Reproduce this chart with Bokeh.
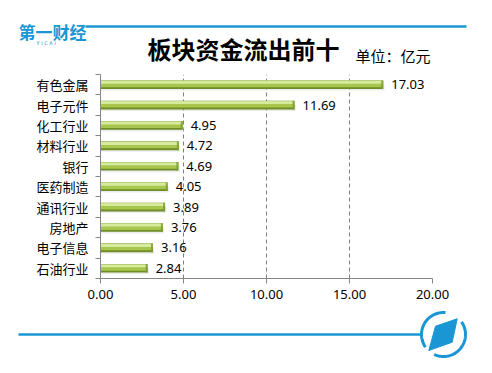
import numpy as np
from bokeh.plotting import figure
from bokeh.models import Range1d, FixedTicker, NumeralTickFormatter
from bokeh.embed import file_html
from bokeh.resources import INLINE
from bokeh.core.properties import value

# ---------------- data ----------------
categories = ["有色金属", "电子元件", "化工行业", "材料行业", "银行",
              "医药制造", "通讯行业", "房地产", "电子信息", "石油行业"]
values = [17.03, 11.69, 4.95, 4.72, 4.69, 4.05, 3.89, 3.76, 3.16, 2.84]
x_ticks = [0, 5, 10, 15, 20]
title_text = "板块资金流出前十"
unit_text = "单位：亿元"

CJK = "Noto Sans CJK SC"
BLUE = "#1a96d4"
GRAY = "#868686"

n = len(categories)
ypos = np.array([n - 0.5 - i for i in range(n)])
vals = np.array(values)
labels = [f"{v:.2f}" for v in values]

# frame occupies page pixels x 100..432, y 74..278
W, H = 484, 365
BL, BR, BT, BB = 100, 52, 74, 87

p = figure(width=W, height=H, x_range=Range1d(x_ticks[0], x_ticks[-1]),
           y_range=Range1d(0, n), toolbar_location=None, output_backend="svg",
           min_border_left=BL, min_border_right=BR, min_border_top=BT, min_border_bottom=BB)
# pixel ranges for the decorations (header / footer)
p.extra_x_ranges = {"px": Range1d(BL, W - BR)}
p.extra_y_ranges = {"px": Range1d(H - BB, BT)}

p.outline_line_color = None
p.ygrid.visible = False
p.xgrid.ticker = FixedTicker(ticks=x_ticks[1:])
p.xgrid.grid_line_color = "#7f7f7f"
p.xgrid.grid_line_dash = "4 3"
p.xgrid.grid_line_width = 1

p.xaxis.ticker = FixedTicker(ticks=x_ticks)
p.xaxis.formatter = NumeralTickFormatter(format="0.00")
p.xaxis.axis_line_color = GRAY
p.xaxis.major_tick_line_color = GRAY
p.xaxis.major_tick_out = 5
p.xaxis.major_tick_in = 0
p.xaxis.minor_tick_line_color = None
p.xaxis.major_label_standoff = 6
p.xaxis.major_label_text_font = "Noto Sans"
p.xaxis.major_label_text_font_size = "13px"
p.xaxis.major_label_text_color = "#000000"

p.yaxis.ticker = FixedTicker(ticks=list(ypos), minor_ticks=list(range(n + 1)))
p.yaxis.major_label_overrides = {float(y): c for y, c in zip(ypos, categories)}
p.yaxis.axis_line_color = GRAY
p.yaxis.major_tick_line_color = None
p.yaxis.major_tick_out = 0
p.yaxis.major_tick_in = 0
p.yaxis.minor_tick_line_color = GRAY
p.yaxis.minor_tick_out = 5
p.yaxis.minor_tick_in = 0
p.yaxis.major_label_standoff = 7
p.yaxis.major_label_text_font = CJK
p.yaxis.major_label_text_font_size = "13px"
p.yaxis.major_label_text_color = "#000000"

# bars (layered to imitate the cylinder look)
p.hbar(y=ypos - 0.14, left=0, right=vals + 0.08, height=0.3,
       fill_color="#c8c8c8", fill_alpha=0.35, line_color=None)
p.hbar(y=ypos, left=0, right=vals, height=0.42, fill_color="#6f8d26", line_color=None)
p.hbar(y=ypos + 0.04, left=0, right=vals, height=0.32, fill_color="#a8c64e", line_color=None)
p.hbar(y=ypos + 0.12, left=0, right=vals, height=0.14, fill_color="#d6eb9e", line_color=None)
p.hbar(y=ypos, left=vals - 0.12, right=vals, height=0.42, fill_color="#7e9c34",
       fill_alpha=0.85, line_color=None)

p.text(x=vals, y=ypos, text=labels, x_offset=8, text_baseline="middle", text_align="left",
       text_font=value("Noto Sans"), text_font_size="13px", text_color="#000000")

# ---------------- header (pixel coordinates) ----------------
kw = dict(x_range_name="px", y_range_name="px", level="overlay")
p.segment(x0=[85], y0=[26], x1=[466], y1=[26], line_color=BLUE, line_width=2.5, **kw)
p.text(x=[18], y=[31], text=["第一财经"], text_font=value(CJK), text_font_style="bold",
       text_font_size="17px", text_color=BLUE, text_baseline="middle", text_align="left", **kw)
p.text(x=[52], y=[42], text=["Y   I   C   A   I"], text_font=value("DejaVu Sans"),
       text_font_size="5px", text_color=BLUE, text_baseline="middle", text_align="center", **kw)
p.text(x=[243], y=[48], text=[title_text], text_font=value(CJK), text_font_style="bold",
       text_font_size="24px", text_color="#000000", text_baseline="middle",
       text_align="center", **kw)
p.text(x=[355], y=[55], text=[unit_text], text_font=value(CJK),
       text_font_size="15px", text_color="#000000", text_baseline="middle",
       text_align="left", **kw)

# ---------------- footer ----------------
cx, cy, r = 443, 334, 22
p.segment(x0=[18], y0=[cy], x1=[cx - r], y1=[cy], line_color=BLUE, line_width=2.5, **kw)
for a0, a1 in [(-35, 115), (145, 275)]:
    t = np.radians(np.linspace(a0, a1, 60))
    p.line(cx + r * np.cos(t), cy + r * np.sin(t), line_color=BLUE, line_width=3, **kw)
p.patch([456.7, 435.0, 428.3, 451.7], [318.3, 325.7, 350.0, 341.7],
        fill_color=BLUE, line_color=BLUE, **kw)

open("out.html", "w").write(file_html(p, INLINE))
